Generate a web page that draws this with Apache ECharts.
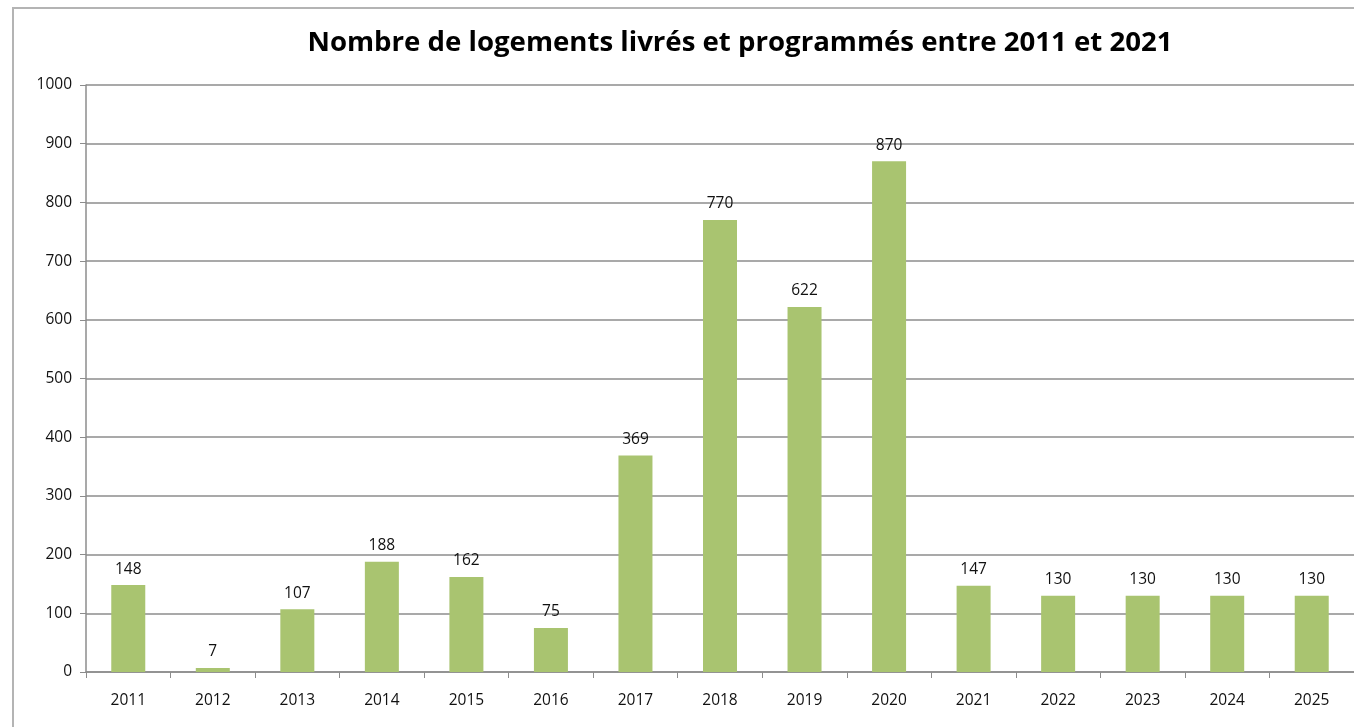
<!DOCTYPE html>
<html>
<head>
<meta charset="utf-8">
<script src="https://cdn.jsdelivr.net/npm/echarts@6/dist/echarts.min.js"></script>
<style>
  html, body { margin: 0; padding: 0; background: #fff; }
  #chart { width: 1354px; height: 727px; }
</style>
</head>
<body>
<div id="chart"></div>
<script>
// données
var annees = ['2011', '2012', '2013', '2014', '2015', '2016', '2017', '2018',
              '2019', '2020', '2021', '2022', '2023', '2024', '2025'];
var logements = [148, 7, 107, 188, 162, 75, 369, 770, 622, 870, 147, 130, 130, 130, 130];
var titre = 'Nombre de logements livrés et programmés entre 2011 et 2021';

var myChart = echarts.init(document.getElementById('chart'));

var option = {
  backgroundColor: '#fff',
  animation: false,
  title: {
    text: titre,
    left: 735,
    textAlign: 'center',
    top: 24,
    textStyle: {
      fontFamily: 'Open Sans',
      fontWeight: 'bold',
      fontSize: 27.6,
      color: '#000'
    }
  },
  // cadre gris
  graphic: [{
    type: 'rect',
    shape: { x: 13, y: 8, width: 1400, height: 800 },
    style: { fill: 'none', stroke: '#b4b4b4', lineWidth: 2 },
    silent: true
  }],
  grid: { left: 86, right: 0, top: 85, bottom: 55 },
  xAxis: {
    type: 'category',
    data: annees,
    axisLine: { lineStyle: { color: '#8c8c8c', width: 1.5 } },
    axisTick: { show: true, alignWithLabel: false, length: 6, lineStyle: { color: '#8c8c8c' } },
    axisLabel: { color: '#111', fontSize: 15.5, fontFamily: 'Open Sans', margin: 21 }
  },
  yAxis: {
    type: 'value',
    min: 0,
    max: 1000,
    interval: 100,
    axisLine: { show: true, lineStyle: { color: '#8c8c8c', width: 1.5 } },
    axisTick: { show: true, length: 6, lineStyle: { color: '#8c8c8c' } },
    axisLabel: {
      color: '#111', fontSize: 15.5, fontFamily: 'Open Sans', margin: 14,
      formatter: function (v) { return String(v); }
    },
    splitLine: { lineStyle: { color: '#8c8c8c', width: 1.5 } }
  },
  series: [{
    type: 'bar',
    data: logements,
    barWidth: 34,
    itemStyle: { color: '#a9c470' },
    label: {
      show: true,
      position: 'top',
      distance: 8,
      color: '#111',
      fontSize: 15.5,
      fontFamily: 'Open Sans'
    }
  }]
};

myChart.setOption(option);
</script>
</body>
</html>
